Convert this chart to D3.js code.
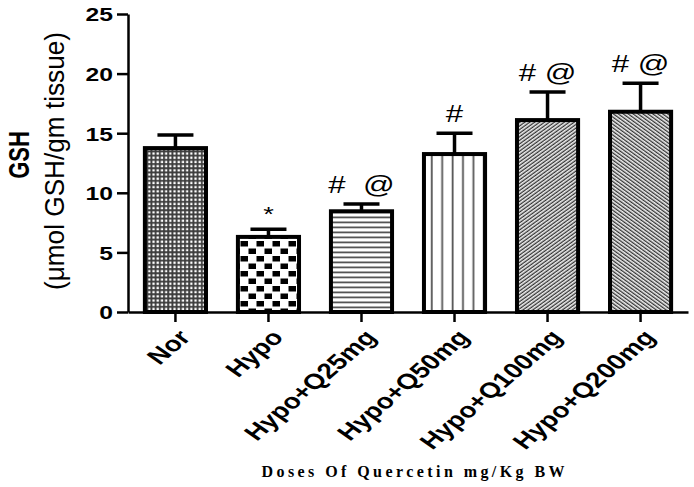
<!DOCTYPE html>
<html>
<head>
<meta charset="utf-8">
<script src="https://cdn.jsdelivr.net/npm/d3@7"></script>
<style>
  html, body { margin: 0; padding: 0; background: #fff; }
  svg { display: block; }
</style>
</head>
<body>
<script>
// ---- data ----
const categories = ["Nor", "Hypo", "Hypo+Q25mg", "Hypo+Q50mg", "Hypo+Q100mg", "Hypo+Q200mg"];
const means = [13.75, 6.3, 8.45, 13.25, 16.1, 16.8];
const sems = [1.1, 0.65, 0.6, 1.75, 2.35, 2.4];
const annotations = ["", "*", "#  @", "#", "# @", "# @"];
const yTicks = [0, 5, 10, 15, 20, 25];
const yTitle = "GSH";
const yUnits = "(\u03BCmol GSH/gm tissue)";
const xTitle = "Doses Of Quercetin mg/Kg BW";

// ---- layout ----
const W = 694, H = 487;
const SX = 1.3; // horizontal stretch of the original artwork
const svg = d3.select("body").append("svg").attr("width", W).attr("height", H);

const x = d3.scaleBand().domain(categories).range([128, 688]).paddingInner(0.3).paddingOuter(0.16);
const y = d3.scaleLinear().domain([0, 25]).range([312, 14]);

// ---- patterns ----
const defs = svg.append("defs");
// Nor: fine grid
const pNor = defs.append("pattern").attr("id", "pNor").attr("patternUnits", "userSpaceOnUse").attr("width", 4.2).attr("height", 4.2);
pNor.append("rect").attr("width", 4.2).attr("height", 4.2).attr("fill", "#3c3c3c");
pNor.append("rect").attr("x", 1.2).attr("y", 1.2).attr("width", 2.3).attr("height", 2.3).attr("fill", "#fff");
// Hypo: coarse staggered checker
const pHypo = defs.append("pattern").attr("id", "pHypo").attr("patternUnits", "userSpaceOnUse").attr("width", 16).attr("height", 15);
pHypo.append("rect").attr("width", 16).attr("height", 15).attr("fill", "#fff");
pHypo.append("rect").attr("x", 0.5).attr("y", 1).attr("width", 7.5).attr("height", 5.5).attr("fill", "#000");
pHypo.append("rect").attr("x", 8.5).attr("y", 8.5).attr("width", 7.5).attr("height", 5.5).attr("fill", "#000");
// Q25: horizontal lines
const pH = defs.append("pattern").attr("id", "pHoriz").attr("patternUnits", "userSpaceOnUse").attr("width", 10).attr("height", 5);
pH.append("rect").attr("width", 10).attr("height", 5).attr("fill", "#fff");
pH.append("rect").attr("y", 1.5).attr("width", 10).attr("height", 1.8).attr("fill", "#555");
// Q50: vertical lines
const pV = defs.append("pattern").attr("id", "pVert").attr("patternUnits", "userSpaceOnUse").attr("width", 10.4).attr("height", 10);
pV.append("rect").attr("width", 10.4).attr("height", 10).attr("fill", "#fff");
pV.append("rect").attr("x", 4.5).attr("width", 1.8).attr("height", 10).attr("fill", "#555");
// Q100 / Q200: diagonal lines
function diag(id, angle) {
  const p = defs.append("pattern").attr("id", id).attr("patternUnits", "userSpaceOnUse")
    .attr("width", 10).attr("height", 2.9).attr("patternTransform", `rotate(${angle})`);
  p.append("rect").attr("width", 10).attr("height", 2.9).attr("fill", "#fff");
  p.append("rect").attr("y", 0.6).attr("width", 10).attr("height", 1.4).attr("fill", "#333");
}
diag("pSlash", -36);
diag("pBack", 36);
const fills = ["url(#pNor)", "url(#pHypo)", "url(#pHoriz)", "url(#pVert)", "url(#pSlash)", "url(#pBack)"];

const data = categories.map((c, i) => ({ c, m: means[i], s: sems[i], a: annotations[i], f: fills[i] }));

// ---- error bars (drawn first, stem hidden by bar) ----
const eb = svg.append("g").attr("stroke", "#000").attr("stroke-width", 3.5);
data.forEach(d => {
  const cx = x(d.c) + x.bandwidth() / 2;
  eb.append("line").attr("x1", cx).attr("x2", cx).attr("y1", y(d.m)).attr("y2", y(d.m + d.s));
  eb.append("line").attr("x1", cx - 18).attr("x2", cx + 18).attr("y1", y(d.m + d.s)).attr("y2", y(d.m + d.s));
});

// ---- bars ----
svg.append("g").selectAll("rect").data(data).join("rect")
  .attr("x", d => x(d.c) + 2)
  .attr("y", d => y(d.m))
  .attr("width", x.bandwidth() - 4)
  .attr("height", d => y(0) - y(d.m))
  .attr("fill", d => d.f)
  .attr("stroke", "#000")
  .attr("stroke-width", 4);

// ---- annotations ----
svg.append("g").selectAll("text").data(data).join("text")
  .attr("transform", d => `translate(${x(d.c) + x.bandwidth() / 2},${y(d.m + d.s) - (d.a === "*" ? 8 : 11)}) scale(${SX},1)`)
  .attr("text-anchor", "middle")
  .attr("font-family", "Liberation Sans, Arial, sans-serif")
  .attr("font-size", d => d.a === "*" ? 21 : 24)
  .style("white-space", "pre")
  .attr("fill", "#000")
  .text(d => d.a);

// ---- axes ----
const yAxis = svg.append("g").attr("transform", "translate(128,0)")
  .call(d3.axisLeft(y).tickValues(yTicks).tickSize(11).tickSizeOuter(0).tickFormat(d3.format("d")));
yAxis.select(".domain").attr("stroke-width", 2.5);
yAxis.selectAll(".tick line").attr("stroke-width", 2.5);
yAxis.selectAll(".tick text")
  .attr("x", 0).attr("dy", "0.36em")
  .attr("transform", `translate(-15,0) scale(${SX},1)`)
  .attr("font-family", "Liberation Sans, Arial, sans-serif")
  .attr("font-weight", "bold").attr("font-size", 19).attr("fill", "#000");

const xAxis = svg.append("g").attr("transform", `translate(0,${y(0)})`)
  .call(d3.axisBottom(x).tickSize(10).tickSizeOuter(0));
xAxis.select(".domain").attr("stroke-width", 2.5);
xAxis.selectAll(".tick line").attr("stroke-width", 2.5);
xAxis.selectAll(".tick text")
  .attr("x", 0).attr("y", 0).attr("dy", "0.3em")
  .attr("text-anchor", "end")
  .attr("transform", `translate(10,22) scale(${SX},1) rotate(-48)`)
  .attr("font-family", "Liberation Sans, Arial, sans-serif")
  .attr("font-weight", "bold").attr("font-size", 21.5).attr("fill", "#000");

// ---- titles ----
svg.append("text")
  .attr("transform", `translate(29,155) scale(${SX},1) rotate(-90)`)
  .attr("text-anchor", "middle")
  .attr("font-family", "Liberation Sans, Arial, sans-serif")
  .attr("font-weight", "bold").attr("font-size", 22)
  .text(yTitle);
svg.append("text")
  .attr("transform", `translate(64,161) scale(${SX},1) rotate(-90)`)
  .attr("text-anchor", "middle")
  .attr("font-family", "Liberation Sans, Arial, sans-serif")
  .attr("font-size", 21)
  .attr("textLength", 258).attr("lengthAdjust", "spacingAndGlyphs")
  .text(yUnits);
svg.append("text")
  .attr("x", 413).attr("y", 477)
  .attr("text-anchor", "middle")
  .attr("font-family", "Liberation Serif, Times New Roman, serif")
  .attr("font-weight", "bold").attr("font-size", 16)
  .attr("textLength", 303).attr("lengthAdjust", "spacing")
  .text(xTitle);
</script>
</body>
</html>
